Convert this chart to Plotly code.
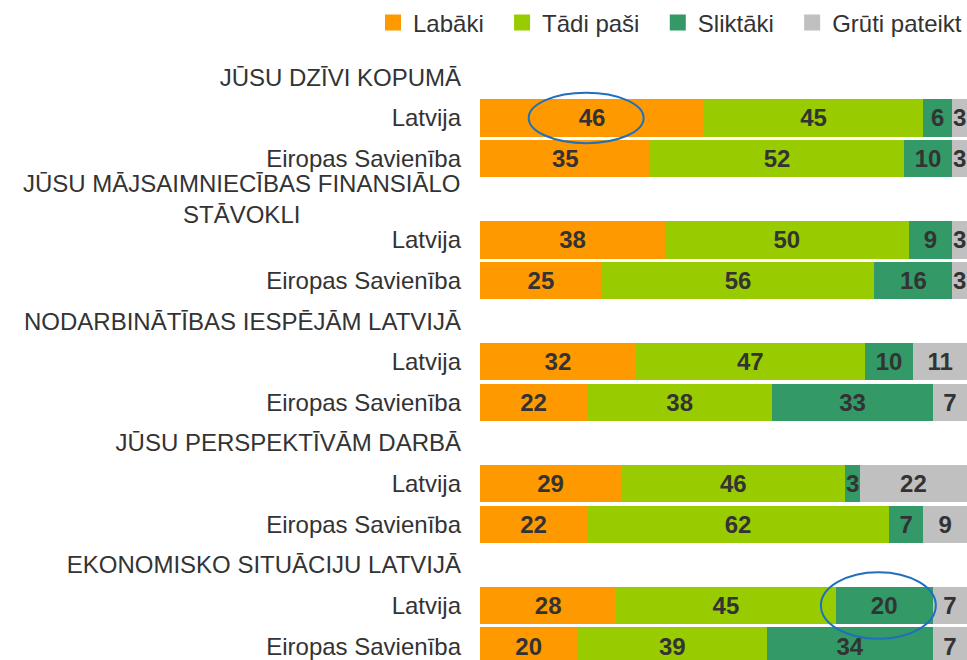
import plotly.graph_objects as go

# ---- data ----
topics = ["JŪSU DZĪVI KOPUMĀ",
          "JŪSU MĀJSAIMNIECĪBAS FINANSIĀLO<br>STĀVOKLI",
          "NODARBINĀTĪBAS IESPĒJĀM LATVIJĀ",
          "JŪSU PERSPEKTĪVĀM DARBĀ",
          "EKONOMISKO SITUĀCIJU LATVIJĀ"]
regions = ["Latvija", "Eiropas Savienība"]
series_names = ["Labāki", "Tādi paši", "Sliktāki", "Grūti pateikt"]
labaki = [46, 35, 38, 25, 32, 22, 29, 22, 28, 20]
tadi_pasi = [45, 52, 50, 56, 47, 38, 46, 62, 45, 39]
sliktaki = [6, 10, 9, 16, 10, 33, 3, 7, 20, 34]
gruti = [3, 3, 3, 3, 11, 7, 22, 9, 7, 7]
colors = ["#FF9900", "#99CC00", "#339966", "#C0C0C0"]
# highlighted cells: (bar index, series index)
highlights = [(0, 0), (8, 2)]

# ---- rows: header row then two region rows per topic ----
bar_y = []
tickvals, ticktext = [], []
header_rows = []
for g, t in enumerate(topics):
    header_rows.append((3 * g, t))
    for r, reg in enumerate(regions):
        bar_y.append(3 * g + 1 + r)
        tickvals.append(3 * g + 1 + r)
        ticktext.append(reg)

all_series = [labaki, tadi_pasi, sliktaki, gruti]
FONT = "Liberation Sans, Arial, sans-serif"
text_font = dict(family=FONT, size=24, color="#333333")

fig = go.Figure()
for name, vals, col in zip(series_names, all_series, colors):
    fig.add_trace(go.Bar(
        name=name, y=bar_y, x=vals, orientation="h",
        marker=dict(color=col, line=dict(width=0)),
        text=[str(v) for v in vals], textposition="inside",
        insidetextanchor="middle", textangle=0,
        textfont=dict(family=FONT, size=24, color="#333333", weight="bold"),
        width=0.92, hoverinfo="skip", cliponaxis=False, showlegend=False,
    ))
# legend entries with square symbols (trailing spaces widen the item gap)
for i, (name, col) in enumerate(zip(series_names, colors)):
    pad = "\u00a0" * 2 if i < len(series_names) - 1 else ""
    fig.add_trace(go.Scatter(
        name=name + pad, x=[None], y=[None], mode="markers",
        marker=dict(symbol="square", size=16, color=col), showlegend=True,
    ))

# header rows; the two-line one as centred annotation
for yv, t in header_rows:
    tickvals.append(yv)
    ticktext.append("" if "<br>" in t else t)
    if "<br>" in t:
        fig.add_annotation(x=0, xref="paper", y=yv, yref="y", text=t,
                           xanchor="right", yanchor="middle", align="center",
                           xshift=-18, showarrow=False, font=text_font)

# highlight ellipses around chosen cells
for bi, si in highlights:
    start = sum(all_series[k][bi] for k in range(si))
    cx = start + all_series[si][bi] / 2
    cy = bar_y[bi]
    hw, hh = 11.8, (0.62 if bi == 0 else 0.82)
    fig.add_shape(type="circle", xref="x", yref="y",
                  x0=cx - hw - 1.2, x1=cx + hw - 1.2, y0=cy - hh, y1=cy + hh,
                  line=dict(color="#1F6FBF", width=2))

fig.update_layout(
    barmode="stack",
    width=967, height=660,
    margin=dict(l=480, r=0, t=57, b=0, autoexpand=False),
    paper_bgcolor="white", plot_bgcolor="white",
    font=text_font,
    xaxis=dict(range=[0, 100], visible=False, fixedrange=True),
    yaxis=dict(range=[14.34, -0.5], tickvals=tickvals, ticktext=ticktext,
               showgrid=False, zeroline=False, showline=False, ticks="",
               ticklabelstandoff=18, tickfont=text_font, fixedrange=True),
    uniformtext=dict(minsize=24, mode="show"),
    legend=dict(orientation="h", x=-0.2197, xanchor="left", y=1.094, yanchor="top",
                font=text_font, traceorder="normal", itemsizing="trace",
                bgcolor="rgba(0,0,0,0)"),
    showlegend=True,
)

fig.write_html("out.html",
               config={"displayModeBar": False},
               post_script="document.body.style.margin='0';document.body.style.padding='0';")
